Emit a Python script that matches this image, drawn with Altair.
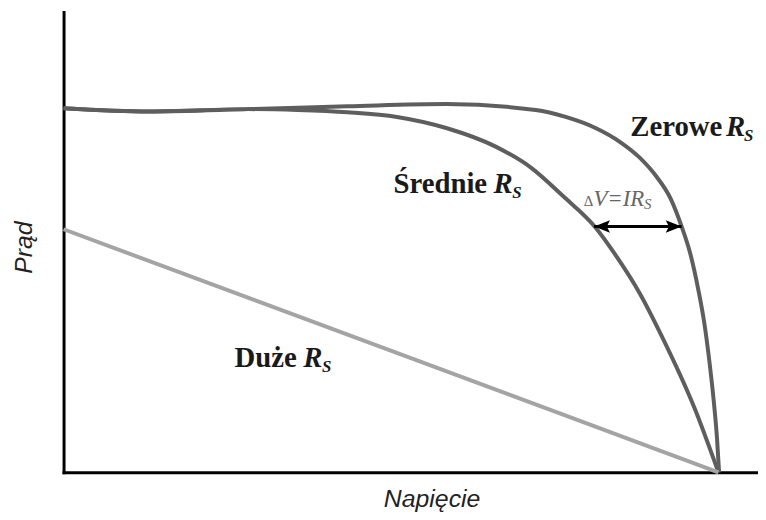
import altair as alt
import pandas as pd

# Napięcie (V) i prąd (I) w jednostkach umownych, 0-100
zero_v = [0, 12.3, 26.6, 40.9, 55.1, 68.0, 72.3, 76.6, 80.1, 83.0, 85.4, 87.4, 89.0, 90.3, 91.4, 92.3, 93.0, 93.6, 94.1, 94.4]
zero_i = [79.1, 78.4, 78.9, 79.5, 80.0, 78.7, 77.2, 74.8, 71.8, 68.3, 64.2, 59.5, 53.4, 47.2, 39.7, 32.1, 24.1, 15.9, 7.3, 0]

med_v = [0, 12.3, 26.6, 33.7, 40.9, 48.0, 55.1, 62.3, 67.3, 72.0, 76.6, 79.4, 83.0, 86.1, 90.9, 94.3]
med_i = [79.1, 78.4, 78.9, 78.7, 78.2, 77.2, 74.8, 70.7, 66.2, 59.9, 53.2, 47.4, 38.8, 29.7, 13.8, 0]

big_v = [0, 94.3]
big_i = [52.8, 0]

series_names = ["Zerowe", "Średnie", "Duże"]
series_colors = ["#5e5e5e", "#5e5e5e", "#a4a4a4"]

# Etykiety krzywych
label_words = ["Zerowe", "Średnie", "Duże"]
label_v = [81.6, 47.5, 24.6]
label_i = [73.1, 60.6, 22.8]
label_r_v = [95.4, 61.9, 34.5]
label_s_v = [98.0, 64.6, 37.2]

# Strzałka ΔV = I·Rs
arrow_v = [76.4, 89.0]
arrow_i = 53.4
delta_v = [74.9, 76.3, 83.6]
delta_i = 57.8

rows = []
for name, vs, is_ in [("Zerowe", zero_v, zero_i), ("Średnie", med_v, med_i), ("Duże", big_v, big_i)]:
    for k, (v, i) in enumerate(zip(vs, is_)):
        rows.append({"seria": name, "V": v, "I": i, "k": k})
df = pd.DataFrame(rows)

xscale = alt.Scale(domain=[0, 100], nice=False, zero=False)
yscale = alt.Scale(domain=[0, 100], nice=False, zero=False)

axis_common = dict(domain=True, domainColor="black", domainWidth=3, domainCap="square",
                   ticks=False, labels=False, grid=False,
                   titleFont="Liberation Sans", titleFontStyle="italic", titleFontWeight="normal",
                   titleFontSize=25, titleColor="#222222")

curves = alt.Chart(df).mark_line(strokeWidth=4, interpolate="monotone").encode(
    x=alt.X("V:Q", scale=xscale, axis=alt.Axis(title="Napięcie", titleX=371, titleY=34,
                                              titleAlign="center", titleBaseline="alphabetic", **axis_common)),
    y=alt.Y("I:Q", scale=yscale, axis=alt.Axis(title="Prąd", titleX=-40, titleY=237, titleAngle=270,
                                              titleAlign="center", titleBaseline="middle", **axis_common)),
    color=alt.Color("seria:N", scale=alt.Scale(domain=series_names, range=series_colors), legend=None),
    order="k:Q",
)

lab = pd.DataFrame({"t": label_words, "V": label_v, "I": label_i,
                    "Vr": label_r_v, "Vs": label_s_v,
                    "Is": [i - 1.1 for i in label_i]})

words = alt.Chart(lab).mark_text(font="Liberation Serif", fontWeight="bold", fontSize=29,
                                 align="left", baseline="alphabetic", color="#1a1a1a").encode(
    x=alt.X("V:Q", scale=xscale), y=alt.Y("I:Q", scale=yscale), text="t:N")
rs = alt.Chart(lab).mark_text(font="Liberation Serif", fontWeight="bold", fontStyle="italic", fontSize=29,
                              align="left", baseline="alphabetic", color="#1a1a1a").encode(
    x=alt.X("Vr:Q", scale=xscale), y=alt.Y("I:Q", scale=yscale), text=alt.value("R"))
ss = alt.Chart(lab).mark_text(font="Liberation Serif", fontWeight="bold", fontStyle="italic", fontSize=17,
                              align="left", baseline="alphabetic", color="#1a1a1a").encode(
    x=alt.X("Vs:Q", scale=xscale), y=alt.Y("Is:Q", scale=yscale), text=alt.value("S"))

arr = pd.DataFrame({"V": [arrow_v[0]], "V2": [arrow_v[1]], "I": [arrow_i]})
rule = alt.Chart(arr).mark_rule(color="black", strokeWidth=3).encode(
    x=alt.X("V:Q", scale=xscale), x2="V2:Q", y=alt.Y("I:Q", scale=yscale))
head_l = alt.Chart(arr).mark_point(shape="M 0 0 L 2 -0.8 L 1.6 0 L 2 0.8 Z", size=256,
                                   filled=True, color="black", opacity=1, strokeWidth=0).encode(
    x=alt.X("V:Q", scale=xscale), y=alt.Y("I:Q", scale=yscale))
head_r = alt.Chart(arr).mark_point(shape="M 0 0 L -2 -0.8 L -1.6 0 L -2 0.8 Z", size=256,
                                   filled=True, color="black", opacity=1, strokeWidth=0).encode(
    x=alt.X("V2:Q", scale=xscale), y=alt.Y("I:Q", scale=yscale))

dl = pd.DataFrame({"V": [delta_v[0]], "V1": [delta_v[1]], "V2": [delta_v[2]],
                   "I": [delta_i], "Is": [delta_i - 0.7]})
d1 = alt.Chart(dl).mark_text(font="Liberation Serif", fontSize=15, align="left", baseline="alphabetic",
                             color="#666666").encode(
    x=alt.X("V:Q", scale=xscale), y=alt.Y("I:Q", scale=yscale), text=alt.value("Δ"))
d2 = alt.Chart(dl).mark_text(font="Liberation Serif", fontStyle="italic", fontSize=23, align="left",
                             baseline="alphabetic", color="#666666").encode(
    x=alt.X("V1:Q", scale=xscale), y=alt.Y("I:Q", scale=yscale), text=alt.value("V=IR"))
d3 = alt.Chart(dl).mark_text(font="Liberation Serif", fontStyle="italic", fontSize=15, align="left",
                             baseline="alphabetic", color="#666666").encode(
    x=alt.X("V2:Q", scale=xscale), y=alt.Y("Is:Q", scale=yscale), text=alt.value("S"))

chart = alt.layer(curves, words, rs, ss, rule, head_l, head_r, d1, d2, d3).properties(
    width=700, height=464,
    autosize=alt.AutoSizeParams(type="none"),
    padding={"left": 56, "top": 2, "right": 0, "bottom": 38},
).configure_view(stroke=None)

chart.save("out.html", embed_options={"renderer": "svg", "actions": False})
